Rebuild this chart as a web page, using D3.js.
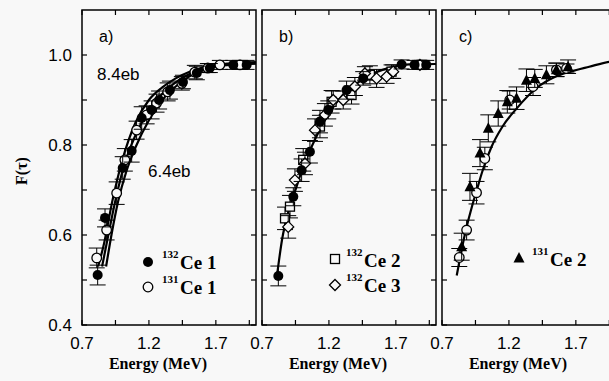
<!DOCTYPE html>
<html><head><meta charset="utf-8">
<script src="https://cdn.jsdelivr.net/npm/d3@7"></script>
<style>body{margin:0;background:#f8f8f8}svg{display:block}</style>
</head><body><svg id="c" width="609" height="381"></svg>
<script>
// ---------- data ----------
const xTicks = [0.7, 0.95, 1.2, 1.45, 1.7, 1.95];
const xTickLabels = [0.7, 1.2, 1.7];
const yTicks = [0.4, 0.5, 0.6, 0.7, 0.8, 0.9, 1.0];
const yTickLabels = [0.4, 0.6, 0.8, 1.0];
const panelNames = ["a)", "b)", "c)"];

// panel a
const a132_E = [0.817,0.872,1.004,1.071,1.146,1.22,1.276,1.357,1.454,1.558,1.655,1.83,1.93];
const a132_F = [0.511,0.638,0.749,0.787,0.86,0.878,0.9,0.922,0.94,0.96,0.971,0.978,0.978];
const a132_err = [0.022,0.02,0.025,0.025,0.025,0.02,0.02,0.02,0.015,0.015,0.01,0.01,0.01];
const a131_E = [0.81,0.884,0.959,1.02,1.108,1.183,1.257,1.34,1.446,1.543,1.64,1.73,1.88];
const a131_F = [0.549,0.611,0.693,0.767,0.833,0.867,0.893,0.918,0.937,0.962,0.971,0.978,0.978];
const a131_err = [0.022,0.022,0.025,0.025,0.02,0.02,0.02,0.02,0.015,0.015,0.01,0.01,0.01];
const curveA84_E = [0.82,0.86,0.93,1.0,1.1,1.2,1.3,1.4,1.5,1.6,1.7,1.85,2.0];
const curveA84_F = [0.53,0.575,0.68,0.765,0.85,0.9,0.928,0.948,0.962,0.972,0.978,0.982,0.984];
const curveAmid_E = [0.85,0.89,0.95,1.01,1.1,1.2,1.3,1.4,1.5,1.6,1.7,1.85,2.0];
const curveAmid_F = [0.53,0.59,0.677,0.75,0.822,0.877,0.914,0.939,0.957,0.968,0.976,0.98,0.982];
const curveA64_E = [0.88,0.92,0.97,1.03,1.1,1.2,1.3,1.4,1.5,1.6,1.7,1.85,2.0];
const curveA64_F = [0.53,0.6,0.675,0.74,0.795,0.855,0.9,0.93,0.952,0.965,0.974,0.979,0.981];

// panel b
const b132_1_E = [0.822,0.934,0.996,1.058,1.133,1.195,1.332,1.456,1.743,1.84,1.927];
const b132_1_F = [0.509,0.685,0.744,0.785,0.852,0.878,0.922,0.948,0.979,0.978,0.978];
const b132_1_err = [0.022,0.02,0.025,0.025,0.025,0.02,0.02,0.015,0.01,0.01,0.01];
const b132_2_E = [0.872,0.909,1.008,1.133,1.22,1.369,1.506,1.668,1.893];
const b132_2_F = [0.637,0.663,0.767,0.841,0.896,0.911,0.956,0.963,0.978];
const b132_2_err = [0.025,0.025,0.025,0.025,0.025,0.02,0.02,0.015,0.01];
const b132_3_E = [0.896,0.946,1.021,1.096,1.17,1.232,1.307,1.394,1.469,1.556,1.631,1.68,1.88];
const b132_3_F = [0.618,0.722,0.759,0.833,0.867,0.9,0.9,0.93,0.959,0.948,0.952,0.963,0.978];
const b132_3_err = [0.025,0.025,0.025,0.025,0.025,0.02,0.02,0.02,0.015,0.02,0.015,0.015,0.01];
const curveB_E = [0.81,0.85,0.9,0.95,1.0,1.1,1.2,1.3,1.4,1.5,1.6,1.7,1.8,2.0];
const curveB_F = [0.505,0.59,0.655,0.7,0.745,0.815,0.87,0.91,0.935,0.955,0.967,0.975,0.979,0.98];

// panel c
const c131_2_E = [0.847,0.909,0.984,1.046,1.12,1.188,1.257,1.331,1.393,1.48,1.555,1.642];
const c131_2_F = [0.574,0.707,0.782,0.837,0.87,0.896,0.904,0.944,0.948,0.956,0.967,0.974];
const c131_2_err = [0.03,0.03,0.03,0.03,0.028,0.025,0.025,0.025,0.02,0.02,0.015,0.015];
const c131_1_E = [0.829,0.884,0.958,1.02,1.206,1.38,1.555,1.63];
const c131_1_F = [0.55,0.611,0.694,0.77,0.9,0.93,0.967,0.97];
const c131_1_err = [0.02,0.022,0.025,0.025,0.02,0.02,0.015,0.01];
const curveC_E = [0.81,0.87,0.93,0.96,1.0,1.07,1.15,1.26,1.4,1.55,1.66,1.8,1.95,2.0];
const curveC_F = [0.51,0.6,0.67,0.7,0.74,0.796,0.84,0.882,0.925,0.952,0.963,0.974,0.985,0.987];

// ---------- drawing ----------
const svg = d3.select("#c");
const bg = "#f8f8f8";
svg.append("rect").attr("width",609).attr("height",381).attr("fill",bg);

const lefts = [82, 262, 442];
const pw = 174, pTop = 10, pBottom = 325;
const y = d3.scaleLinear().domain([0.4, 1.1]).range([pBottom, pTop]);
const sansFont = "'Liberation Sans', Arial, sans-serif";
const serifFont = "'Liberation Serif', 'Times New Roman', serif";

const zip = (E, F, err) => E.map((e, i) => ({E: e, F: F[i], err: err ? err[i] : 0}));

const panels = [
  { curves: [[curveA84_E, curveA84_F],[curveAmid_E, curveAmid_F],[curveA64_E, curveA64_F]],
    series: [ {d: zip(a131_E, a131_F, a131_err), m: "ocircle"},
              {d: zip(a132_E, a132_F, a132_err), m: "fcircle"} ] },
  { curves: [[curveB_E, curveB_F]],
    series: [ {d: zip(b132_2_E, b132_2_F, b132_2_err), m: "square"},
              {d: zip(b132_3_E, b132_3_F, b132_3_err), m: "diamond"},
              {d: zip(b132_1_E, b132_1_F, b132_1_err), m: "fcircle"} ] },
  { curves: [[curveC_E, curveC_F]],
    series: [ {d: zip(c131_1_E, c131_1_F, c131_1_err), m: "ocircle"},
              {d: zip(c131_2_E, c131_2_F, c131_2_err), m: "triangle"} ] }
];

function marker(g, type, cx, cy) {
  if (type === "fcircle") {
    g.append("circle").attr("cx",cx).attr("cy",cy).attr("r",5).attr("fill","#000");
  } else if (type === "ocircle") {
    g.append("circle").attr("cx",cx).attr("cy",cy).attr("r",4.8).attr("fill",bg).attr("stroke","#000").attr("stroke-width",1.3);
  } else if (type === "square") {
    g.append("rect").attr("x",cx-4.5).attr("y",cy-4.5).attr("width",9).attr("height",9).attr("fill",bg).attr("stroke","#000").attr("stroke-width",1.3);
  } else if (type === "diamond") {
    g.append("path").attr("d",`M${cx},${cy-5.5}L${cx+5.5},${cy}L${cx},${cy+5.5}L${cx-5.5},${cy}Z`).attr("fill",bg).attr("stroke","#000").attr("stroke-width",1.3);
  } else if (type === "triangle") {
    g.append("path").attr("d",`M${cx},${cy-6}L${cx+5.5},${cy+4.5}L${cx-5.5},${cy+4.5}Z`).attr("fill","#000");
  }
}

panels.forEach((p, i) => {
  const L = lefts[i];
  const x = d3.scaleLinear().domain([0.7, 2.0]).range([L, L + pw]);
  const clipId = "clip" + i;
  svg.append("clipPath").attr("id", clipId).append("rect")
    .attr("x", L).attr("y", pTop).attr("width", pw).attr("height", pBottom - pTop);
  const g = svg.append("g").attr("clip-path", `url(#${clipId})`);

  const line = d3.line().x(d => x(d[0])).y(d => y(d[1])).curve(d3.curveMonotoneX);
  p.curves.forEach(c => {
    const pts = c[0].map((e, k) => [e, c[1][k]]);
    g.append("path").attr("d", line(pts)).attr("fill","none").attr("stroke","#000").attr("stroke-width",2.2);
  });

  p.series.forEach(s => {
    s.d.forEach(d => {
      const cx = x(d.E), y1 = y(d.F + d.err), y2 = y(d.F - d.err);
      g.append("line").attr("x1",cx).attr("x2",cx).attr("y1",y1).attr("y2",y2).attr("stroke","#000").attr("stroke-width",1);
      [y1, y2].forEach(yy => g.append("line").attr("x1",cx-8).attr("x2",cx+8).attr("y1",yy).attr("y2",yy).attr("stroke","#000").attr("stroke-width",1));
    });
    s.d.forEach(d => marker(g, s.m, x(d.E), y(d.F)));
  });

  svg.append("rect").attr("x",L).attr("y",pTop).attr("width",pw).attr("height",pBottom-pTop)
    .attr("fill","none").attr("stroke","#000").attr("stroke-width",1.5);

  const tk = svg.append("g").attr("stroke","#000").attr("stroke-width",1.2);
  xTicks.forEach(t => {
    tk.append("line").attr("x1",x(t)).attr("x2",x(t)).attr("y1",pBottom).attr("y2",pBottom-5);
    tk.append("line").attr("x1",x(t)).attr("x2",x(t)).attr("y1",pTop).attr("y2",pTop+5);
  });
  yTicks.forEach(t => {
    tk.append("line").attr("x1",L).attr("x2",L+5).attr("y1",y(t)).attr("y2",y(t));
    tk.append("line").attr("x1",L+pw).attr("x2",L+pw-5).attr("y1",y(t)).attr("y2",y(t));
  });

  xTickLabels.forEach(t => {
    svg.append("text").attr("x", x(t)).attr("y", 349).attr("text-anchor","middle")
      .attr("font-family", sansFont).attr("font-size", 17).attr("fill","#000").text(t.toFixed(1));
  });

  svg.append("text").attr("x", L + 76).attr("y", 369).attr("text-anchor","middle")
    .attr("font-family", serifFont).attr("font-weight","bold").attr("font-size", 16).attr("fill","#000")
    .text("Energy (MeV)");

  svg.append("text").attr("x", L + 17).attr("y", 42)
    .attr("font-family", sansFont).attr("font-size", 16).attr("fill","#000").text(panelNames[i]);
});

yTickLabels.forEach(t => {
  svg.append("text").attr("x", 72).attr("y", y(t) + 6).attr("text-anchor","end")
    .attr("font-family", sansFont).attr("font-size", 17).attr("fill","#000").text(t.toFixed(1));
});

svg.append("text").attr("transform","translate(27,171) rotate(-90)").attr("text-anchor","middle")
  .attr("font-family", serifFont).attr("font-weight","bold").attr("font-size", 16).attr("fill","#000")
  .text("F(τ)");

svg.append("text").attr("x",97).attr("y",80).attr("font-family",sansFont).attr("font-size",17).attr("fill","#000").text("8.4eb");
svg.append("text").attr("x",148).attr("y",177).attr("font-family",sansFont).attr("font-size",17).attr("fill","#000").text("6.4eb");

function legendEntry(type, mx, my, sup, label, tx, ty) {
  const g = svg.append("g");
  marker(g, type, mx, my);
  g.append("text").attr("x", tx).attr("y", ty - 11).attr("font-family", serifFont).attr("font-weight","bold")
    .attr("font-size", 11).attr("fill","#000").text(sup);
  g.append("text").attr("x", tx + 18).attr("y", ty).attr("font-family", serifFont).attr("font-weight","bold")
    .attr("font-size", 19).attr("fill","#000").text(label);
}
legendEntry("fcircle", 148, 262, "132", "Ce 1", 162, 269);
legendEntry("ocircle", 148, 287, "131", "Ce 1", 162, 294);
legendEntry("square", 335, 259, "132", "Ce 2", 346, 267);
legendEntry("diamond", 335, 285, "132", "Ce 3", 346, 292);
legendEntry("triangle", 519, 258, "131", "Ce 2", 532, 266);
</script></body></html>
